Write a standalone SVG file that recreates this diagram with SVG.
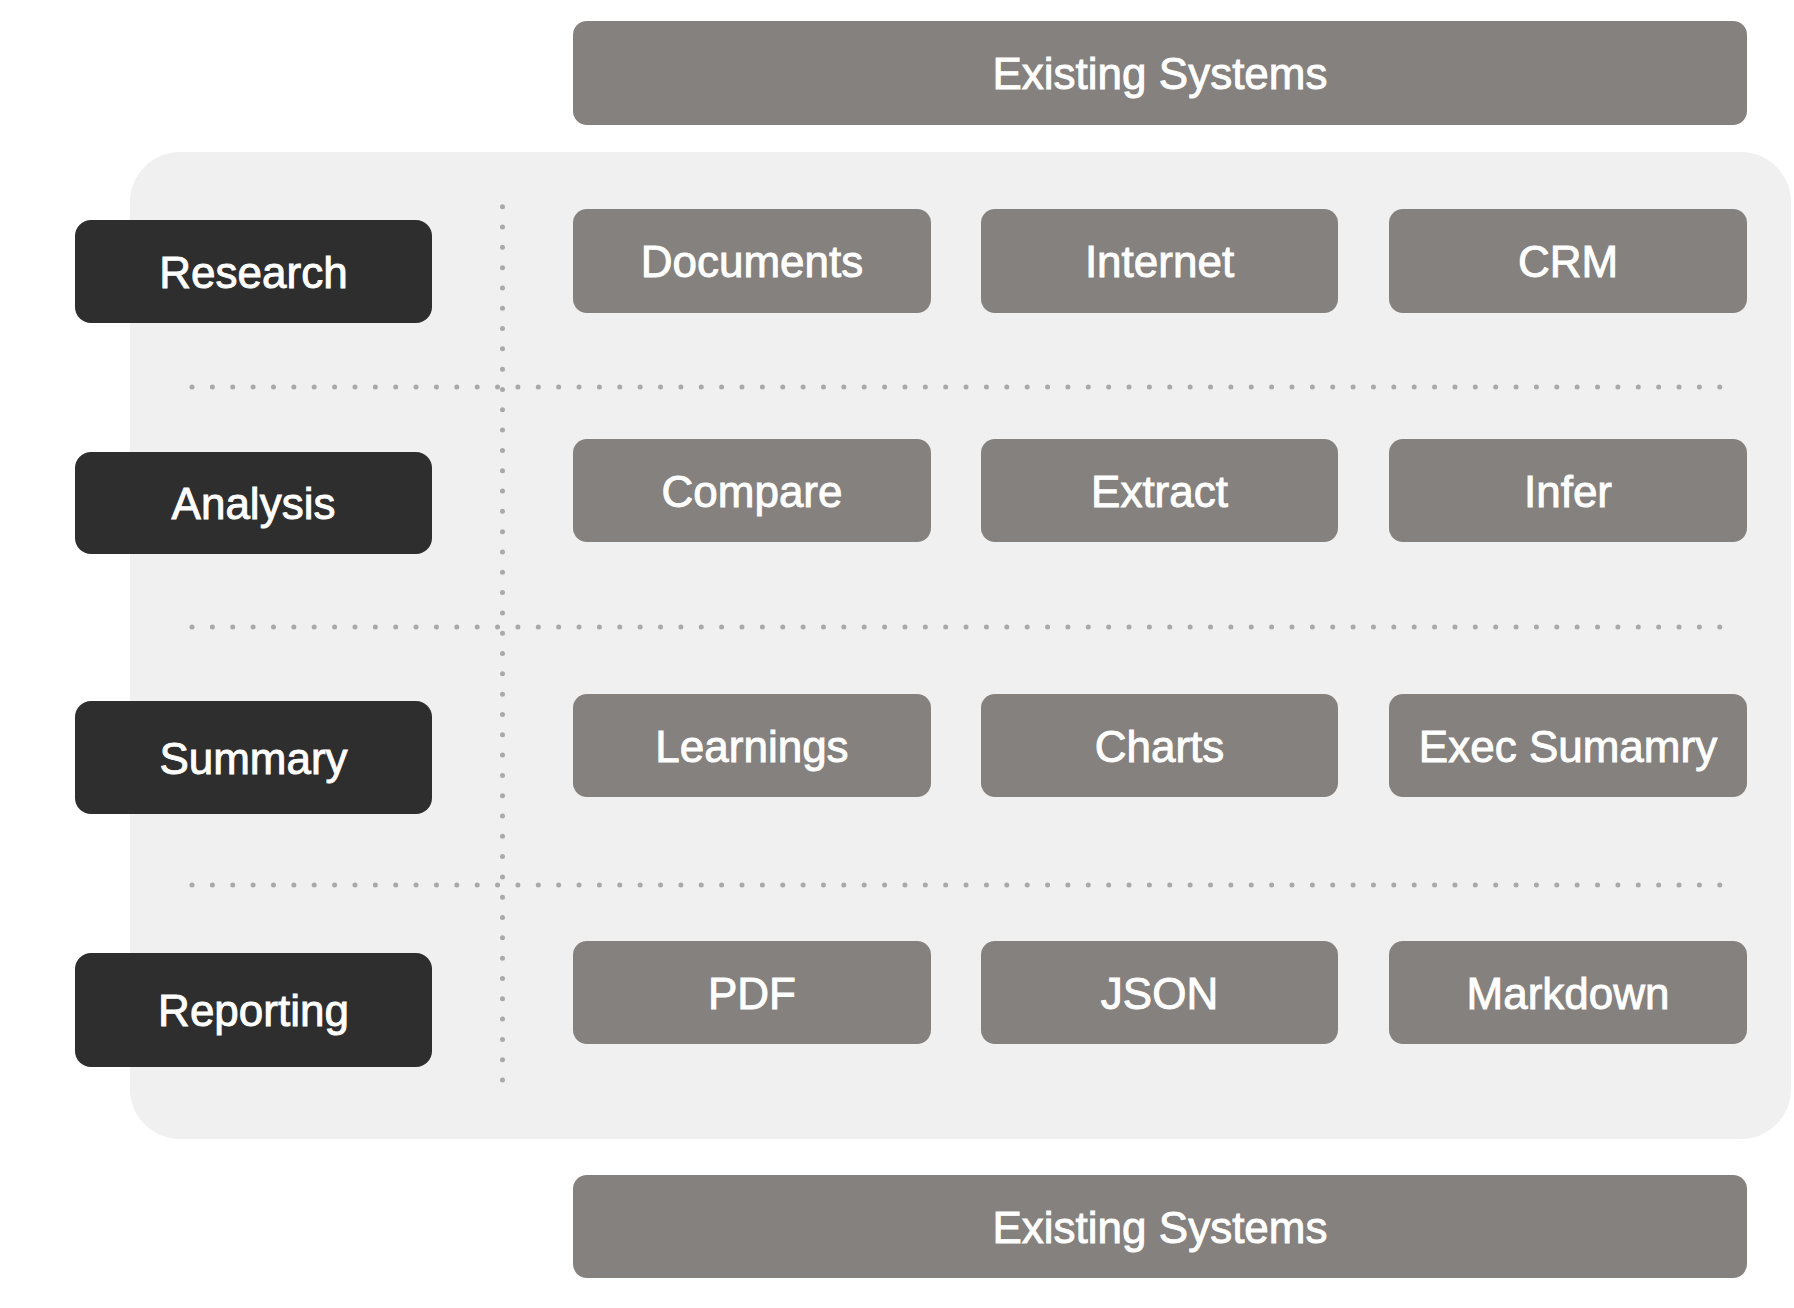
<svg xmlns="http://www.w3.org/2000/svg" width="1794" height="1308" viewBox="0 0 1794 1308">
  <style>
    .panel { fill: #f0f0f0; }
    .sys { fill: #85817e; }
    .stage { fill: #2e2e2e; }
    .lbl { fill: #ffffff; stroke: #ffffff; stroke-width: 0.9px; font-family: "Liberation Sans", Arial, Helvetica, sans-serif; font-size: 44px; text-anchor: middle; }
    .dots { stroke: #a9a9a9; stroke-width: 5; stroke-linecap: round; fill: none; }
    .h { stroke-dasharray: 0 20.37; }
    .v { stroke-dasharray: 0 20.31; }
  </style>
  <rect x="0" y="0" width="1794" height="1308" fill="#ffffff"/>
  <rect class="panel" x="130" y="152" width="1661" height="987" rx="50" ry="50"/>

  <g id="separators">
    <line class="dots v" x1="502.5" y1="206.7" x2="502.5" y2="1081.5"/>
    <line class="dots h" x1="192" y1="387" x2="1721" y2="387"/>
    <line class="dots h" x1="192" y1="627" x2="1721" y2="627"/>
    <line class="dots h" x1="192" y1="885" x2="1721" y2="885"/>
  </g>

  <g id="existing-systems-top">
    <rect class="sys" x="573" y="21" width="1174" height="104" rx="14"/>
    <text class="lbl" x="1160" y="89">Existing Systems</text>
  </g>

  <g id="research">
    <rect class="stage" x="75" y="220" width="357" height="103" rx="16"/>
    <text class="lbl" x="253.5" y="287.5">Research</text>
  </g>
  <g id="analysis">
    <rect class="stage" x="75" y="452" width="357" height="102" rx="16"/>
    <text class="lbl" x="253.5" y="519">Analysis</text>
  </g>
  <g id="summary">
    <rect class="stage" x="75" y="701" width="357" height="113" rx="16"/>
    <text class="lbl" x="253.5" y="773.5">Summary</text>
  </g>
  <g id="reporting">
    <rect class="stage" x="75" y="953" width="357" height="114" rx="16"/>
    <text class="lbl" x="253.5" y="1026">Reporting</text>
  </g>

  <g id="documents">
    <rect class="sys" x="573" y="209" width="358" height="104" rx="14"/>
    <text class="lbl" x="752" y="277">Documents</text>
  </g>
  <g id="internet">
    <rect class="sys" x="981" y="209" width="357" height="104" rx="14"/>
    <text class="lbl" x="1159.5" y="277">Internet</text>
  </g>
  <g id="crm">
    <rect class="sys" x="1389" y="209" width="358" height="104" rx="14"/>
    <text class="lbl" x="1568" y="277">CRM</text>
  </g>

  <g id="compare">
    <rect class="sys" x="573" y="439" width="358" height="103" rx="14"/>
    <text class="lbl" x="752" y="506.5">Compare</text>
  </g>
  <g id="extract">
    <rect class="sys" x="981" y="439" width="357" height="103" rx="14"/>
    <text class="lbl" x="1159.5" y="506.5">Extract</text>
  </g>
  <g id="infer">
    <rect class="sys" x="1389" y="439" width="358" height="103" rx="14"/>
    <text class="lbl" x="1568" y="506.5">Infer</text>
  </g>

  <g id="learnings">
    <rect class="sys" x="573" y="694" width="358" height="103" rx="14"/>
    <text class="lbl" x="752" y="761.5">Learnings</text>
  </g>
  <g id="charts">
    <rect class="sys" x="981" y="694" width="357" height="103" rx="14"/>
    <text class="lbl" x="1159.5" y="761.5">Charts</text>
  </g>
  <g id="exec-summary">
    <rect class="sys" x="1389" y="694" width="358" height="103" rx="14"/>
    <text class="lbl" x="1568" y="761.5">Exec Sumamry</text>
  </g>

  <g id="pdf">
    <rect class="sys" x="573" y="941" width="358" height="103" rx="14"/>
    <text class="lbl" x="752" y="1008.5">PDF</text>
  </g>
  <g id="json">
    <rect class="sys" x="981" y="941" width="357" height="103" rx="14"/>
    <text class="lbl" x="1159.5" y="1008.5">JSON</text>
  </g>
  <g id="markdown">
    <rect class="sys" x="1389" y="941" width="358" height="103" rx="14"/>
    <text class="lbl" x="1568" y="1008.5">Markdown</text>
  </g>

  <g id="existing-systems-bottom">
    <rect class="sys" x="573" y="1175" width="1174" height="103" rx="14"/>
    <text class="lbl" x="1160" y="1242.5">Existing Systems</text>
  </g>
</svg>
